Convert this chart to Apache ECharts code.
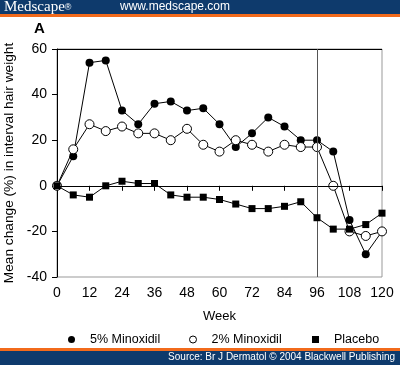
<!DOCTYPE html>
<html><head><meta charset="utf-8">
<script src="https://cdn.jsdelivr.net/npm/echarts@6/dist/echarts.min.js"></script>
<style>html,body{margin:0;padding:0;background:#fff}#c{width:400px;height:365px}</style>
</head><body><div id="c"></div>
<script>
const weeks = [0,6,12,18,24,30,36,42,48,54,60,66,72,78,84,90,96,102,108,114,120];
const minox5 = [0,13,54,55,33,27,36,37,33,34,27,17,23,30,26,20,20,15,-15,-30,-20];
const minox2 = [0,16,27,24,26,23,23,20,25,18,15,20,18,15,18,17,17,0,-20,-22,-20];
const placebo = [0,-4,-5,0,2,1,1,-4,-5,-5,-6,-8,-10,-10,-9,-7,-14,-19,-19,-17,-12];
const xTicks = [0,12,24,36,48,60,72,84,96,108,120];
const yTicks = [-40,-20,0,20,40,60];
const seriesNames = ['5% Minoxidil','2% Minoxidil','Placebo'];

const pairs = a => weeks.map((w,i)=>[w,a[i]]);
const font = 'Liberation Sans, Arial, sans-serif';
const legendText = {fontFamily:font,fontSize:12.5,color:'#000',padding:[0,0,0,10]};
const mkLegend = (name, icon, left, style) => ({bottom:14,left:left,itemWidth:7,itemHeight:7,
  textStyle:legendText,data:[Object.assign({name:name,icon:icon},style?{itemStyle:style}:{})]});
const chart = echarts.init(document.getElementById('c'));
chart.setOption({
  animation:false,
  backgroundColor:'#fff',
  grid:{left:57,right:18,top:49,bottom:88,show:true,borderColor:'#999',borderWidth:1,backgroundColor:'transparent',
    containLabel:false,outerBoundsMode:'none'},
  xAxis:{type:'value',min:0,max:120,interval:12,
    name:'Week',nameLocation:'middle',nameGap:33,
    nameTextStyle:{fontFamily:font,fontSize:13,color:'#000'},
    axisLine:{show:true,lineStyle:{color:'#000',width:1}},
    axisTick:{show:true,length:5,lineStyle:{color:'#000'}},
    axisLabel:{fontFamily:font,fontSize:14,color:'#000',margin:9},
    splitLine:{show:false}},
  yAxis:{type:'value',min:-40,max:60,interval:20,
    name:'Mean change (%) in interval hair weight',nameLocation:'middle',nameGap:40,
    nameTextStyle:{fontFamily:font,fontSize:13.7,color:'#000'},
    axisLine:{show:true,lineStyle:{color:'#000',width:1}},
    axisTick:{show:true,length:5,lineStyle:{color:'#000'}},
    axisLabel:{fontFamily:font,fontSize:14,color:'#000',margin:10},
    splitLine:{show:false}},
  legend:[
    mkLegend(seriesNames[0],'circle',63,null),
    mkLegend(seriesNames[1],'circle',184,{color:'#fff',borderColor:'#000',borderWidth:1}),
    mkLegend(seriesNames[2],'rect',307,null)
  ],
  series:[
    {name:seriesNames[0],type:'line',data:pairs(minox5),symbol:'circle',symbolSize:8,
      lineStyle:{color:'#000',width:1},itemStyle:{color:'#000'},z:3,
      markLine:{silent:true,symbol:'none',label:{show:false},
        data:[{yAxis:0,lineStyle:{color:'#000',width:1,type:'solid'}},
              {yAxis:60,lineStyle:{color:'#000',width:1,type:'solid'}},
              {xAxis:96,lineStyle:{color:'#555',width:1,type:'solid'}}]}},
    {name:seriesNames[1],type:'line',data:pairs(minox2),symbol:'circle',symbolSize:9,
      lineStyle:{color:'#000',width:1},itemStyle:{color:'#fff',borderColor:'#000',borderWidth:1},z:4},
    {name:seriesNames[2],type:'line',data:pairs(placebo),symbol:'rect',symbolSize:7,
      lineStyle:{color:'#000',width:1},itemStyle:{color:'#000'},z:5}
  ],
  graphic:[
    {type:'rect',shape:{x:0,y:0,width:400,height:14},style:{fill:'#0e3a6c'}},
    {type:'rect',shape:{x:0,y:14,width:400,height:3},style:{fill:'#f26a1b'}},
    {type:'text',x:4,y:0,style:{text:'{a|Medscape}{b|®}',fill:'#fff',
      rich:{a:{fill:'#fff',font:'15px "Liberation Serif", serif'},b:{fill:'#fff',font:'9px "Liberation Sans", sans-serif'}}}},
    {type:'text',x:120,y:1,style:{text:'www.medscape.com',fill:'#fff',font:'12px "Liberation Sans", Arial, sans-serif'}},
    {type:'text',x:34,y:21,style:{text:'A',fill:'#000',font:'bold 15px "Liberation Sans", Arial, sans-serif'}},
    {type:'rect',shape:{x:0,y:348,width:400,height:3},style:{fill:'#f26a1b'}},
    {type:'rect',shape:{x:0,y:351,width:400,height:14},style:{fill:'#0e3a6c'}},
    {type:'text',right:5,y:352,style:{text:'Source: Br J Dermatol © 2004 Blackwell Publishing',fill:'#fff',font:'10px "Liberation Sans", Arial, sans-serif'}}
  ]
});
</script></body></html>
